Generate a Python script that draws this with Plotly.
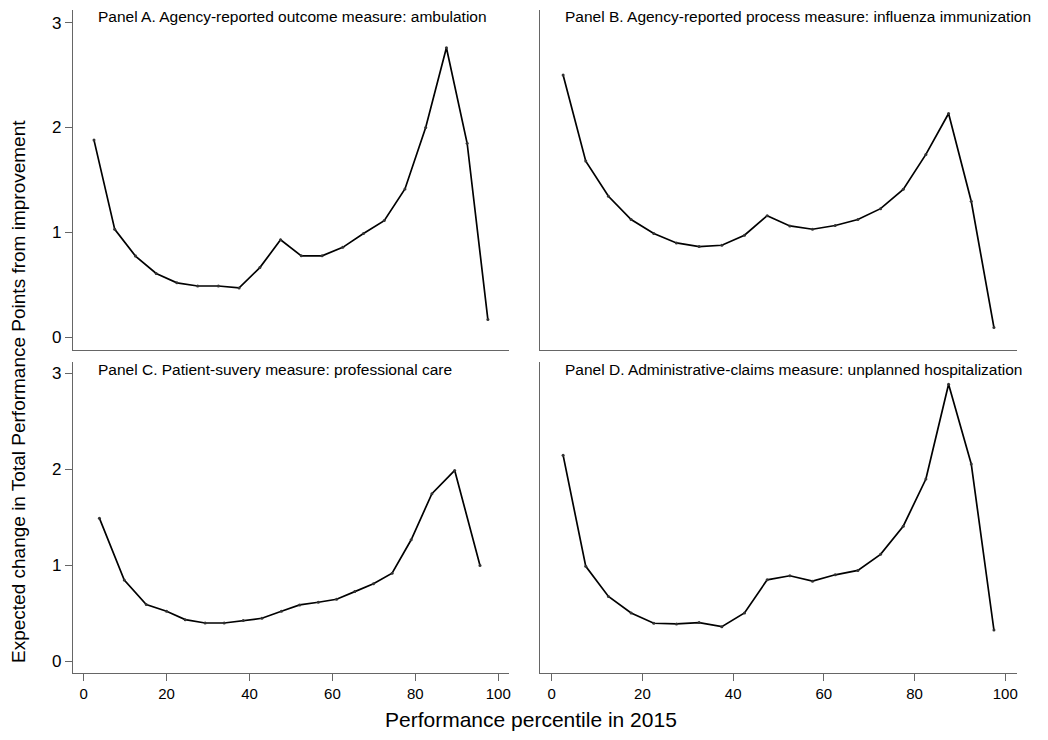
import plotly.graph_objects as go

# Percentile bins (2015 performance) and expected change in TPP per panel
pct_a = [2.5, 7.5, 12.5, 17.5, 22.5, 27.5, 32.5, 37.5, 42.5, 47.5,
         52.5, 57.5, 62.5, 67.5, 72.5, 77.5, 82.5, 87.5, 92.5, 97.5]
val_a = [1.88, 1.03, 0.775, 0.61, 0.52, 0.49, 0.49, 0.472, 0.665, 0.93,
         0.777, 0.777, 0.858, 0.99, 1.113, 1.415, 2.0, 2.76, 1.85, 0.17]

pct_b = [2.5, 7.5, 12.5, 17.5, 22.5, 27.5, 32.5, 37.5, 42.5, 47.5,
         52.5, 57.5, 62.5, 67.5, 72.5, 77.5, 82.5, 87.5, 92.5, 97.5]
val_b = [2.5, 1.68, 1.345, 1.123, 0.99, 0.9, 0.866, 0.878, 0.974, 1.16,
         1.062, 1.031, 1.066, 1.123, 1.227, 1.411, 1.744, 2.134, 1.297, 0.095]

pct_c = [3.8, 9.8, 15.1, 20.0, 24.5, 29.3, 33.9, 38.5, 43.0, 47.7,
         52.1, 56.6, 61.0, 65.4, 69.9, 74.4, 79.0, 84.0, 89.5, 95.6]
val_c = [1.493, 0.848, 0.593, 0.523, 0.436, 0.401, 0.401, 0.426, 0.45, 0.523,
         0.589, 0.617, 0.648, 0.728, 0.809, 0.92, 1.268, 1.748, 1.99, 1.0]

pct_d = [2.5, 7.5, 12.5, 17.5, 22.5, 27.5, 32.5, 37.5, 42.5, 47.5,
         52.5, 57.5, 62.5, 67.5, 72.5, 77.5, 82.5, 87.5, 92.5, 97.5]
val_d = [2.149, 0.991, 0.677, 0.506, 0.398, 0.391, 0.405, 0.363, 0.506, 0.851,
         0.893, 0.837, 0.903, 0.949, 1.116, 1.409, 1.901, 2.888, 2.058, 0.328]

panel_titles = [
    "Panel A. Agency-reported outcome measure: ambulation",
    "Panel B. Agency-reported process measure: influenza immunization",
    "Panel C. Patient-suvery measure: professional care",
    "Panel D. Administrative-claims measure: unplanned hospitalization",
]

y_ticks = [0, 1, 2, 3]
x_ticks = [0, 20, 40, 60, 80, 100]

W, H = 1048, 740
FONT = "Liberation Sans, Arial, Helvetica, sans-serif"
AXIS_COLOR = "#666666"

# pixel boxes (left, right, top, bottom) of each panel
boxes = {
    "A": (73, 510, 10, 350),
    "B": (541, 1019, 10, 350),
    "C": (73, 510, 362, 673),
    "D": (541, 1019, 362, 673),
}


def xdom(b):
    return [b[0] / W, b[1] / W]


def ydom(b):
    return [1 - b[3] / H, 1 - b[2] / H]


fig = go.Figure()

series = [("A", pct_a, val_a), ("B", pct_b, val_b),
          ("C", pct_c, val_c), ("D", pct_d, val_d)]

for i, (key, xs, ys) in enumerate(series):
    suffix = "" if i == 0 else str(i + 1)
    fig.add_trace(go.Scatter(
        x=xs, y=ys, mode="lines+markers",
        line=dict(color="black", width=1.7),
        marker=dict(color="#333333", size=3),
        xaxis="x" + suffix, yaxis="y" + suffix,
        showlegend=False, hoverinfo="skip",
    ))

layout = dict(
    width=W, height=H,
    margin=dict(l=0, r=0, t=0, b=0),
    paper_bgcolor="white", plot_bgcolor="white",
    font=dict(family=FONT, color="black"),
    showlegend=False,
)

for i, key in enumerate(["A", "B", "C", "D"]):
    b = boxes[key]
    suffix = "" if i == 0 else str(i + 1)
    left_col = key in ("A", "C")
    bottom_row = key in ("C", "D")
    layout["xaxis" + suffix] = dict(
        domain=xdom(b), anchor="y" + suffix,
        range=[-2.6, 102.6], showgrid=False, zeroline=False,
        showline=True, linecolor=AXIS_COLOR, linewidth=1,
        tickvals=x_ticks if bottom_row else [],
        ticks="outside" if bottom_row else "",
        ticklen=7, tickcolor=AXIS_COLOR,
        showticklabels=bottom_row,
        tickfont=dict(size=15, family=FONT, color="black"),
        fixedrange=True,
    )
    layout["yaxis" + suffix] = dict(
        domain=ydom(b), anchor="x" + suffix,
        range=[-0.12, 3.12], showgrid=False, zeroline=False,
        showline=True, linecolor=AXIS_COLOR, linewidth=1,
        tickvals=y_ticks if left_col else [],
        ticks="outside" if left_col else "",
        ticklen=7, tickcolor=AXIS_COLOR,
        showticklabels=left_col,
        tickfont=dict(size=17, family=FONT, color="black"),
        fixedrange=True,
    )

annotations = []
for key, title in zip(["A", "B", "C", "D"], panel_titles):
    b = boxes[key]
    annotations.append(dict(
        text=title, xref="paper", yref="paper",
        x=(b[0] + 23) / W, y=1 - (b[2] + 7) / H,
        xanchor="left", yanchor="middle", showarrow=False,
        font=dict(size=15.5, family=FONT, color="black"),
    ))

annotations.append(dict(
    text="Performance percentile in 2015", xref="paper", yref="paper",
    x=532 / W, y=1 - 719 / H, xanchor="center", yanchor="middle",
    showarrow=False, font=dict(size=21, family=FONT, color="black"),
))
annotations.append(dict(
    text="Expected change in Total Performance Points from improvement",
    xref="paper", yref="paper", x=18 / W, y=1 - 391 / H,
    xanchor="center", yanchor="middle", textangle=-90,
    showarrow=False, font=dict(size=19, family=FONT, color="black"),
))
layout["annotations"] = annotations

fig.update_layout(**layout)
fig.write_html("out.html")
